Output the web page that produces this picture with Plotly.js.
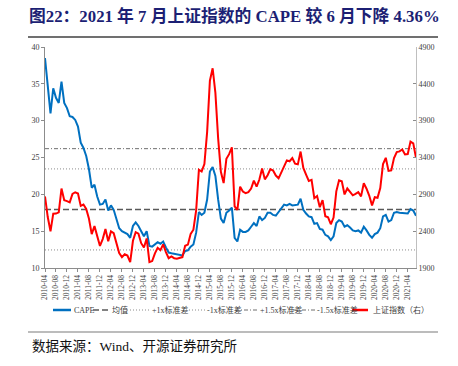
<!DOCTYPE html>
<html>
<head>
<meta charset="utf-8">
<script src="https://cdn.plot.ly/plotly-3.0.1.min.js"></script>
<style>html,body{margin:0;padding:0;background:#fff;}#chart{width:458px;height:366px;}</style>
</head>
<body>
<div id="chart"></div>
<script>
// Monthly categories 2010-04 .. 2021-07
const startYear = 2010, startMonth = 4, nMonths = 136;
const months = [];
for (let k = 0; k < nMonths; k++) {
  const m = startMonth - 1 + k;
  const y = startYear + Math.floor(m / 12);
  const mm = (m % 12) + 1;
  months.push(y + '-' + (mm < 10 ? '0' + mm : '' + mm));
}

// CAPE (left axis)
const cape = [
  38.5, 35.1, 31.0, 34.4, 33.1, 32.4, 35.3, 32.4, 31.7, 30.6,
  30.5, 30.1, 29.2, 27.0, 26.3, 25.2, 23.4, 20.9, 21.3, 19.7,
  18.6, 18.7, 19.3, 17.8, 18.5, 17.9, 16.6, 15.4, 15.0, 14.8,
  14.6, 14.1, 15.7, 16.2, 15.7, 15.0, 14.3, 15.0, 13.0, 12.9,
  13.2, 13.5, 13.3, 13.6, 12.8, 12.1, 12.0, 11.9, 11.8, 11.7,
  11.7, 12.3, 12.4, 12.9, 13.2, 14.8, 17.6, 17.2, 17.5, 19.3,
  23.1, 23.7, 22.5, 19.3, 16.7, 16.1, 17.5, 17.8, 18.2, 14.1,
  13.6, 15.2, 14.9, 14.9, 15.1, 15.6, 16.1, 15.7, 17.0, 16.5,
  16.8, 17.5, 17.5, 17.2, 17.1, 17.6, 18.1, 18.6, 18.5, 18.7,
  18.5, 18.5, 18.6, 19.4, 17.9, 17.4, 17.0, 16.9, 16.0, 16.1,
  15.3, 15.2, 14.5, 14.3, 13.8, 14.3, 16.1, 16.5, 16.3, 15.6,
  15.8, 15.5, 15.1, 15.0, 15.1, 14.8, 15.6, 15.1, 14.5, 14.1,
  14.6, 14.8, 15.4, 17.0, 17.2, 16.3, 16.5, 17.5, 17.6, 17.5,
  17.5, 17.4, 17.4, 18.0, 17.8, 17.1
];

// Shanghai Composite (right axis)
const sse = [
  2870.6, 2592.2, 2398.4, 2637.5, 2638.8, 2655.7, 2978.8, 2820.2, 2808.1, 2790.7,
  2905.1, 2928.1, 2911.5, 2743.5, 2762.1, 2701.7, 2567.3, 2359.2, 2468.3, 2333.4,
  2199.4, 2292.6, 2428.5, 2262.8, 2396.3, 2372.2, 2225.4, 2103.6, 2047.5, 2086.2,
  2068.9, 1980.1, 2269.1, 2385.4, 2365.6, 2236.6, 2177.9, 2300.6, 1979.2, 1993.8,
  2098.4, 2174.7, 2141.6, 2220.5, 2116.0, 2033.1, 2056.3, 2033.3, 2026.4, 2039.2,
  2048.3, 2201.6, 2217.2, 2363.9, 2420.2, 2682.8, 3234.7, 3210.4, 3310.3, 3747.9,
  4441.7, 4611.7, 4277.2, 3663.7, 3205.9, 3052.8, 3382.6, 3445.4, 3539.2, 2737.6,
  2688.0, 3003.9, 2938.3, 2916.6, 2929.6, 2979.3, 3085.5, 3004.7, 3100.5, 3250.0,
  3103.6, 3159.2, 3241.7, 3222.5, 3154.7, 3117.2, 3192.4, 3273.0, 3360.8, 3348.9,
  3393.3, 3317.2, 3307.2, 3480.8, 3259.4, 3168.9, 3082.2, 3095.5, 2847.4, 2876.4,
  2725.3, 2821.4, 2602.8, 2588.2, 2493.9, 2584.6, 2941.0, 3090.8, 3078.3, 2898.7,
  2979.0, 2932.5, 2886.2, 2905.2, 2929.1, 2872.0, 3050.1, 2976.5, 2880.3, 2750.3,
  2860.1, 2852.4, 2984.7, 3310.0, 3395.7, 3218.1, 3224.5, 3391.8, 3473.1, 3483.1,
  3509.1, 3441.9, 3446.9, 3615.5, 3591.2, 3397.4
];

// Reference levels for CAPE
const bandNames  = ['均值', '+1x标准差', '-1x标准差', '+1.5x标准差', '-1.5x标准差'];
const bandValues = [17.95, 23.45, 12.45, 26.2, 9.7];

// x tick labels
const tickLabels = ['2010-04','2010-08','2010-12','2011-04','2011-08','2011-12','2012-04','2012-08','2012-12',
  '2013-04','2013-08','2013-12','2014-04','2014-08','2014-12','2015-04','2015-08','2015-12','2016-04','2016-08',
  '2016-12','2017-04','2017-08','2017-12','2018-04','2018-08','2018-12','2019-04','2019-08','2019-12','2020-04',
  '2020-08','2020-12','2021-04'];

const serif = 'Liberation Serif, Times New Roman, Noto Sans CJK SC, serif';
const bandStyles = [
  {color:'#595959', width:1.4, dash:'6px,3px'},
  {color:'#8c8c8c', width:1, dash:'1px,2px'},
  {color:'#8c8c8c', width:1, dash:'1px,2px'},
  {color:'#6f6f6f', width:1, dash:'4px,2px,1px,2px'},
  {color:'#6f6f6f', width:1, dash:'4px,2px,1px,2px'}
];

const traces = [];
bandNames.forEach((nm, k) => {
  traces.push({
    x: [months[0], months[months.length - 1]],
    y: [bandValues[k], bandValues[k]],
    name: nm, type: 'scatter', mode: 'lines',
    line: bandStyles[k], hoverinfo: 'skip'
  });
});
traces.push({x: months, y: cape, name: 'CAPE', type: 'scatter', mode: 'lines',
  line: {color: '#0070C0', width: 2}});
traces.push({x: months, y: sse, name: '上证指数（右）', type: 'scatter', mode: 'lines',
  yaxis: 'y2', line: {color: '#FF0000', width: 2}});

// pixel -> paper helpers (plot area: x 45..416, y 47..268)
const L = 45, R = 416, T = 47, B = 268;
const xp = X => (X - L) / (R - L);
const yp = Y => (B - Y) / (B - T);

const shapes = [
  {type:'line', xref:'paper', yref:'paper', x0:xp(28), x1:xp(438), y0:yp(37), y1:yp(37), line:{color:'#404040', width:1.5}},
  {type:'line', xref:'paper', yref:'paper', x0:xp(28), x1:xp(438), y0:yp(332), y1:yp(332), line:{color:'#a6a6a6', width:1.5}}
];
const annotations = [
  {xref:'paper', yref:'paper', x:xp(30), y:yp(346), xanchor:'left', yanchor:'middle', showarrow:false,
   text:'数据来源：Wind、开源证券研究所', font:{family:serif, size:13.5, color:'#111'}}
];

// custom legend
const legY = 310;
const legendItems = [
  {name:'CAPE', x0:53, x1:71, tx:72, line:{color:'#0070C0', width:2.5}},
  {name:bandNames[0], x0:93, x1:108, tx:110, line:bandStyles[0]},
  {name:bandNames[1], x0:127, x1:150, tx:150, line:bandStyles[1]},
  {name:bandNames[2], x0:183, x1:205, tx:205, line:bandStyles[2]},
  {name:bandNames[3], x0:235, x1:258, tx:258, line:bandStyles[3]},
  {name:bandNames[4], x0:293, x1:315, tx:315, line:bandStyles[4]},
  {name:'上证指数（右）', x0:352, x1:368, tx:371, line:{color:'#FF0000', width:2.5}}
];
legendItems.forEach(it => {
  shapes.push({type:'line', xref:'paper', yref:'paper', x0:xp(it.x0), x1:xp(it.x1), y0:yp(legY), y1:yp(legY), line:it.line});
  annotations.push({xref:'paper', yref:'paper', x:xp(it.tx), y:yp(legY), xanchor:'left', yanchor:'middle',
    showarrow:false, text:it.name, font:{family:serif, size:8, color:'#404040'}});
});

const layout = {
  width: 458, height: 366,
  margin: {l: L, r: 458 - R, t: T, b: 366 - B, pad: 0},
  paper_bgcolor: '#fff', plot_bgcolor: '#fff',
  showlegend: false,
  title: {text: '<b>图22：2021 年 7 月上证指数的 CAPE 较 6 月下降 4.36%</b>',
    xref: 'container', yref: 'container', x: 29 / 458, xanchor: 'left', y: 1 - 16 / 366, yanchor: 'middle',
    font: {family: serif, size: 16.8, color: '#1c1f74'}},
  xaxis: {type: 'category', categoryorder: 'array', categoryarray: months,
    range: [0, nMonths - 1], showgrid: false, zeroline: false,
    showline: true, linecolor: '#8c8c8c', linewidth: 1,
    ticks: 'outside', ticklen: 3, tickcolor: '#8c8c8c',
    tickmode: 'array', tickvals: tickLabels, ticktext: tickLabels, tickangle: -90,
    tickfont: {family: serif, size: 7.5, color: '#404040'}},
  yaxis: {range: [10, 40], tick0: 10, dtick: 5, showgrid: false, zeroline: false,
    showline: true, linecolor: '#8c8c8c', linewidth: 1,
    ticks: 'outside', ticklen: 3, tickcolor: '#8c8c8c',
    tickfont: {family: serif, size: 8, color: '#404040'}},
  yaxis2: {range: [1900, 4900], tick0: 1900, dtick: 500, overlaying: 'y', side: 'right', showgrid: false, zeroline: false,
    showline: true, linecolor: '#bfbfbf', linewidth: 1,
    ticks: 'inside', ticklen: 3, tickcolor: '#8c8c8c',
    tickfont: {family: serif, size: 8, color: '#404040'}},
  shapes: shapes,
  annotations: annotations
};

Plotly.newPlot('chart', traces, layout, {staticPlot: true, displayModeBar: false});
</script>
</body>
</html>
